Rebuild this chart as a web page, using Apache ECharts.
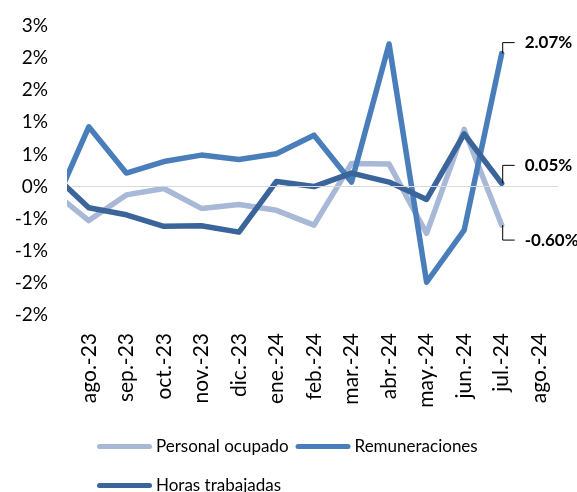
<!DOCTYPE html>
<html>
<head>
<meta charset="utf-8">
<script src="https://cdn.jsdelivr.net/npm/echarts@6/dist/echarts.min.js"></script>
<style>
  html, body { margin: 0; padding: 0; background: #fff; }
  #chart { width: 577px; height: 492px; }
</style>
</head>
<body>
<div id="chart"></div>
<script>
// categories shown on the axis
const months = ['ago.-23', 'sep.-23', 'oct.-23', 'nov.-23', 'dic.-23', 'ene.-24', 'feb.-24',
  'mar.-24', 'abr.-24', 'may.-24', 'jun.-24', 'jul.-24', 'ago.-24']
// first value is jul.-23, only partly visible at the left edge
const personal = [-0.06, -0.53, -0.13, -0.03, -0.34, -0.28, -0.37, -0.60, 0.36, 0.35, -0.73, 0.89, -0.60]
const remuneraciones = [-0.40, 0.93, 0.21, 0.39, 0.49, 0.42, 0.51, 0.80, 0.07, 2.22, -1.49, -0.68, 2.07]
const horas = [0.22, -0.33, -0.44, -0.62, -0.61, -0.71, 0.08, 0.00, 0.21, 0.07, -0.20, 0.82, 0.05]
const yTickLabels = ['-2%', '-2%', '-1%', '-1%', '0%', '1%', '1%', '2%', '2%', '3%']

const font = 'Lato, "Open Sans", sans-serif'
const colors = ['#A7B9D7', '#4A7EBB', '#3B659A']

const toPairs = arr => arr.map((v, i) => [i - 1, v])

const mkSeries = (name, data, color) => ({
  name: name,
  type: 'line',
  xAxisIndex: 1,
  data: toPairs(data),
  showSymbol: false,
  symbol: 'none',
  clip: true,
  animation: false,
  lineStyle: { color: color, width: 5.5, cap: 'round', join: 'round' },
  itemStyle: { color: color }
})

const chart = echarts.init(document.getElementById('chart'))

const legendIcon = 'path://M2.5,0 H52.5 A2.5,2.5 0 0 1 52.5,5 H2.5 A2.5,2.5 0 0 1 2.5,0 Z'
const legendText = { color: '#000', fontSize: 17, fontFamily: font, padding: [0, 0, 0, -1] }

const option = {
  animation: false,
  grid: { left: 70, right: 19, top: 26, bottom: 177, containLabel: false },
  xAxis: [{
    type: 'category',
    data: months,
    boundaryGap: true,
    axisLine: { show: false },
    axisTick: { show: false },
    splitLine: { show: false },
    axisLabel: { interval: 0, rotate: 90, margin: 18, color: '#000', fontSize: 21, fontFamily: font }
  }, {
    type: 'value',
    min: -0.5,
    max: 12.5,
    show: false
  }],
  yAxis: {
    type: 'value',
    min: -2,
    max: 2.5,
    interval: 0.5,
    axisLine: { show: false },
    axisTick: { show: false },
    splitLine: { show: false },
    axisLabel: {
      margin: 22,
      color: '#000',
      fontSize: 19,
      fontFamily: font,
      formatter: (v, i) => yTickLabels[i]
    }
  },
  legend: [{
    data: ['Personal ocupado', 'Remuneraciones'],
    left: 97,
    top: 438,
    padding: 0,
    itemWidth: 55,
    itemHeight: 5,
    itemGap: 7,
    icon: legendIcon,
    textStyle: legendText
  }, {
    data: ['Horas trabajadas'],
    left: 97,
    top: 477,
    padding: 0,
    itemWidth: 55,
    itemHeight: 5,
    itemGap: 7,
    icon: legendIcon,
    textStyle: legendText
  }],
  series: [
    mkSeries('Personal ocupado', personal, colors[0]),
    mkSeries('Remuneraciones', remuneraciones, colors[1]),
    mkSeries('Horas trabajadas', horas, colors[2]),
    {
      type: 'line',
      xAxisIndex: 1,
      data: [],
      silent: true,
      markLine: {
        silent: true,
        symbol: 'none',
        label: { show: false },
        lineStyle: { color: '#D9D9D9', width: 1, type: 'solid' },
        data: [{ yAxis: 0 }]
      },
      z: 1
    }
  ]
}

chart.setOption(option)

// end-of-line labels with elbow leaders (last point of each series)
const last = months.length - 2
const endLabels = [
  { data: remuneraciones, dy: -11 },
  { data: horas, dy: -18 },
  { data: personal, dy: 15 }
]
const graphics = []
endLabels.forEach(l => {
  const v = l.data[l.data.length - 1]
  const p = chart.convertToPixel({ xAxisIndex: 1, yAxisIndex: 0 }, [last, v])
  const y2 = p[1] + l.dy
  graphics.push({
    type: 'polyline',
    shape: { points: [[p[0] + 1, p[1]], [p[0] + 1, y2], [p[0] + 13, y2]] },
    style: { stroke: '#000', lineWidth: 1, fill: null },
    z: 10
  })
  graphics.push({
    type: 'text',
    x: p[0] + 23,
    y: y2,
    style: {
      text: v.toFixed(2) + '%',
      fill: '#000',
      font: 'bold 17px ' + font,
      verticalAlign: 'middle',
      align: 'left'
    },
    z: 10
  })
})
chart.setOption({ graphic: graphics })
</script>
</body>
</html>
